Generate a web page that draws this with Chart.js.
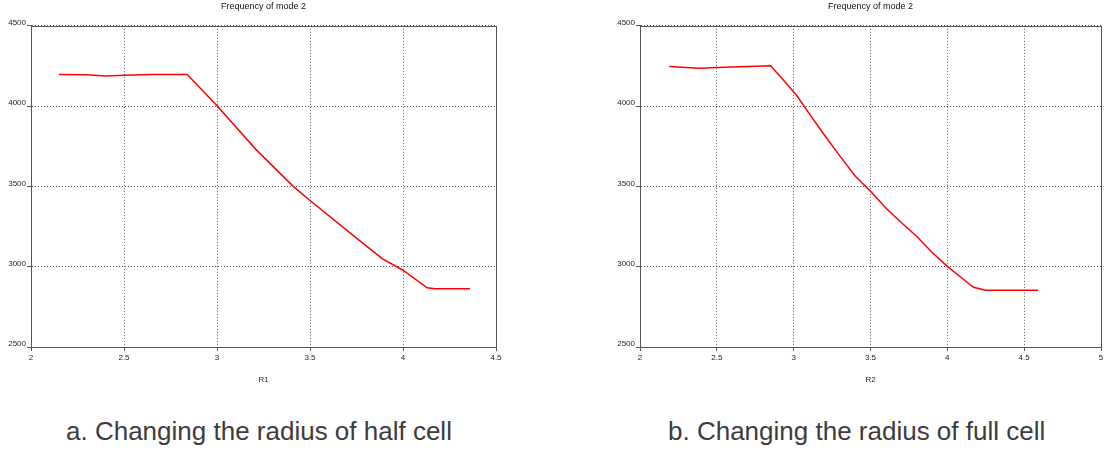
<!DOCTYPE html>
<html>
<head>
<meta charset="utf-8">
<script src="https://cdn.jsdelivr.net/npm/chart.js@4/dist/chart.umd.min.js"></script>
<style>
  html, body { margin: 0; padding: 0; background: #fff; }
  body { width: 1107px; height: 453px; position: relative; overflow: hidden; }
  .box { position: absolute; top: 0; height: 400px; }
  .cap { position: absolute; top: 416px; font-family: "Liberation Sans", Arial, sans-serif;
         font-size: 26px; line-height: 30px; color: #3c3c3c; white-space: nowrap; }
</style>
</head>
<body>
<div class="box" style="left:0;width:520px"><canvas id="c1"></canvas></div>
<div class="box" style="left:590px;width:517px"><canvas id="c2"></canvas></div>
<div class="cap" style="left:66px">a. Changing the radius of half cell</div>
<div class="cap" style="left:668px">b. Changing the radius of full cell</div>
<script>
// half cell, radius R1
const r1 = [2.15, 2.3, 2.4, 2.5, 2.65, 2.84, 3.0, 3.21, 3.41, 3.5, 3.76, 3.89, 4.0, 4.13, 4.17, 4.36];
const f1 = [4197, 4195, 4188, 4192, 4196, 4197, 4002, 3729, 3500, 3412, 3169, 3049, 2978, 2869, 2862, 2862];

// full cell, radius R2
const r2 = [2.19, 2.3, 2.39, 2.5, 2.6, 2.7, 2.85, 2.93, 3.02, 3.1, 3.2, 3.3, 3.4, 3.5, 3.6, 3.7, 3.8, 3.9, 4.0, 4.1, 4.17, 4.25, 4.4, 4.59];
const f2 = [4247, 4241, 4236, 4240, 4244, 4246, 4251, 4166, 4066, 3955, 3820, 3690, 3565, 3470, 3365, 3275, 3190, 3090, 3002, 2925, 2872, 2853, 2853, 2853];

const yTicks = [2500, 3000, 3500, 4000, 4500];

const frame = {
  id: "frame",
  afterDraw(chart) {
    const a = chart.chartArea, ctx = chart.ctx;
    ctx.save();
    ctx.strokeStyle = "#555";
    ctx.lineWidth = 1;
    ctx.strokeRect(Math.round(a.left) + 0.5, Math.round(a.top) + 0.5,
                   Math.round(a.right - a.left), Math.round(a.bottom - a.top));
    ctx.restore();
  }
};

function makeChart(id, xs, ys, xMax, xName, yAxisW, rightPad) {
  const pts = xs.map((x, i) => ({ x, y: ys[i] }));
  return new Chart(document.getElementById(id), {
    type: "line",
    data: { datasets: [{ data: pts, borderColor: "#ff0000", borderWidth: 1.5, pointRadius: 0, tension: 0, fill: false }] },
    options: {
      responsive: true,
      maintainAspectRatio: false,
      animation: false,
      layout: { padding: { left: 0, right: rightPad, top: 0, bottom: 0 } },
      plugins: {
        legend: { display: false },
        tooltip: { enabled: false },
        title: {
          display: true, text: "Frequency of mode 2", fullSize: false, color: "#111",
          font: { family: "Liberation Sans", size: 9, weight: "normal" }, padding: { top: 1, bottom: 14 }
        }
      },
      scales: {
        x: {
          type: "linear", min: 2, max: xMax,
          ticks: { stepSize: 0.5, color: "#222", padding: 2, maxRotation: 0,
                   font: { family: "Liberation Sans", size: 8 },
                   callback: v => String(v) },
          grid: { color: "#555", tickLength: 4, tickColor: "#555" },
          border: { display: true, color: "#555", dash: [1, 2] },
          title: { display: true, text: xName, color: "#222",
                   font: { family: "Liberation Sans", size: 8 }, padding: { top: 0, bottom: 15 } },
          afterFit(s) { s.height = 53; }
        },
        y: {
          min: 2500, max: 4500,
          afterBuildTicks(s) { s.ticks = yTicks.map(v => ({ value: v })); },
          ticks: { color: "#222", padding: 1, labelOffset: -3,
                   font: { family: "Liberation Sans", size: 8 },
                   callback: v => String(v) },
          grid: { color: "#555", tickLength: 4, tickColor: "#555" },
          border: { display: true, color: "#555", dash: [1, 2] },
          afterFit(s) { s.width = yAxisW; }
        }
      }
    },
    plugins: [frame]
  });
}

makeChart("c1", r1, f1, 4.5, "R1", 31, 24);
makeChart("c2", r2, f2, 5, "R2", 50, 6);
</script>
</body>
</html>
